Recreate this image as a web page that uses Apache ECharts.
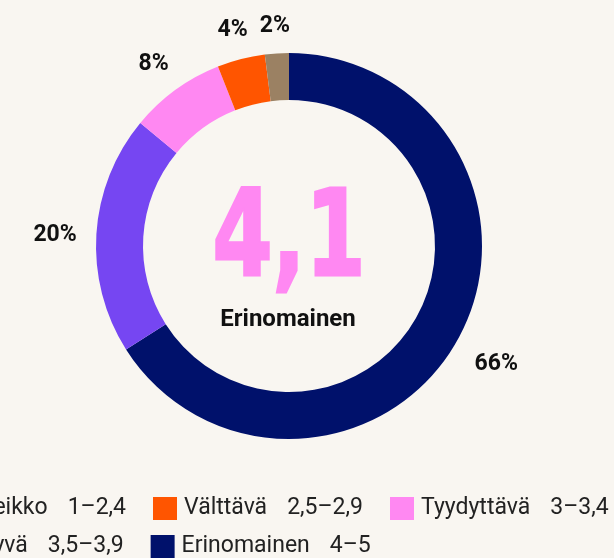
<!DOCTYPE html>
<html lang="fi">
<head>
<meta charset="UTF-8">
<title>Arvosanat</title>
<script src="https://cdn.jsdelivr.net/npm/echarts@6/dist/echarts.min.js"></script>
<style>
  html, body { margin: 0; padding: 0; background: #f9f6f1; }
</style>
</head>
<body>
<div id="main" style="width: 614px; height: 558px"></div>
<script type="text/javascript">
  // arvosanaluokat (legendan järjestys)
  const categories = ["Heikko", "Välttävä", "Tyydyttävä", "Hyvä", "Erinomainen"];
  const ranges = ["1–2,4", "2,5–2,9", "3–3,4", "3,5–3,9", "4–5"];
  const shares = [2, 4, 8, 20, 66]; // %
  const colors = ["#9b8163", "#ff5500", "#ff88f2", "#7646f2", "#00116b"];
  const average = "4,1";
  const averageLabel = "Erinomainen";

  const cx = 289, cy = 246;   // renkaan keskipiste
  const labelGap = 212;       // prosenttitekstin etäisyys keskeltä (lähin reuna)
  const labelNudge = 4;       // pieni siirto alaspäin

  // piirretään myötäpäivään ylhäältä: Erinomainen ensin
  const order = [4, 3, 2, 1, 0];
  const pieData = order.map(i => ({
    name: categories[i],
    value: shares[i],
    itemStyle: { color: colors[i] }
  }));
  const rangeOf = {};
  categories.forEach((c, i) => rangeOf[c] = ranges[i]);

  const legendBase = {
    orient: "horizontal",
    left: -59,
    width: 900,
    icon: "rect",
    itemWidth: 24,
    itemHeight: 23,
    itemGap: 27,
    formatter: name => "{n|" + name + "}{v|" + rangeOf[name] + "}",
    textStyle: {
      rich: {
        n: { fontFamily: "Roboto", fontSize: 23, color: "#222", padding: [0, 0, 0, 2] },
        v: { fontFamily: "Roboto", fontSize: 23, color: "#222", padding: [0, 0, 0, 20] }
      }
    }
  };

  let myChart = echarts.init(document.getElementById("main"));
  let options = {
    backgroundColor: "#f9f6f1",
    animation: false,
    legend: [
      Object.assign({}, legendBase, { top: 492, data: categories.slice(0, 3) }),
      Object.assign({}, legendBase, { top: 530, data: categories.slice(3) })
    ],
    graphic: [
      {
        type: "text",
        x: cx, y: 244,
        scaleX: 0.72,
        style: {
          text: average,
          fontFamily: "DejaVu Sans", fontWeight: "bold", fontSize: 120,
          fill: "#ff88f2", stroke: "#ff88f2", lineWidth: 3,
          align: "center", verticalAlign: "middle"
        }
      },
      {
        type: "text",
        x: cx - 1, y: 320,
        style: {
          text: averageLabel,
          fontFamily: "Roboto", fontWeight: "bold", fontSize: 24,
          fill: "#111", align: "center", verticalAlign: "middle"
        }
      }
    ],
    series: [
      {
        type: "pie",
        center: [cx, cy],
        radius: [146, 193],
        startAngle: 90,
        clockwise: true,
        silent: true,
        label: { show: false },
        labelLine: { show: false },
        data: pieData
      },
      {
        // prosenttimerkinnät renkaan ulkopuolelle
        type: "pie",
        center: [cx, cy],
        radius: [226, 230],
        startAngle: 90,
        clockwise: true,
        silent: true,
        label: {
          show: true,
          position: "inside",
          formatter: p => p.value + "%",
          fontFamily: "Roboto", fontWeight: "bold", fontSize: 23, color: "#111"
        },
        labelLine: { show: false },
        // siirretään teksti niin, että sen lähin reuna on labelGap:n päässä
        labelLayout: function (params) {
          const r = params.labelRect;
          const lx = r.x + r.width / 2, ly = r.y + r.height / 2;
          const vx = lx - cx, vy = ly - cy;
          const d = Math.hypot(vx, vy);
          const ux = vx / d, uy = vy / d;
          const t = labelGap + Math.abs(ux) * r.width / 2 + Math.abs(uy) * r.height / 2;
          return { dx: ux * t - vx, dy: uy * t - vy + labelNudge };
        },
        data: pieData.map(d => ({ name: d.name, value: d.value, itemStyle: { color: "transparent" } }))
      }
    ]
  };
  myChart.setOption(options);
</script>
</body>
</html>
